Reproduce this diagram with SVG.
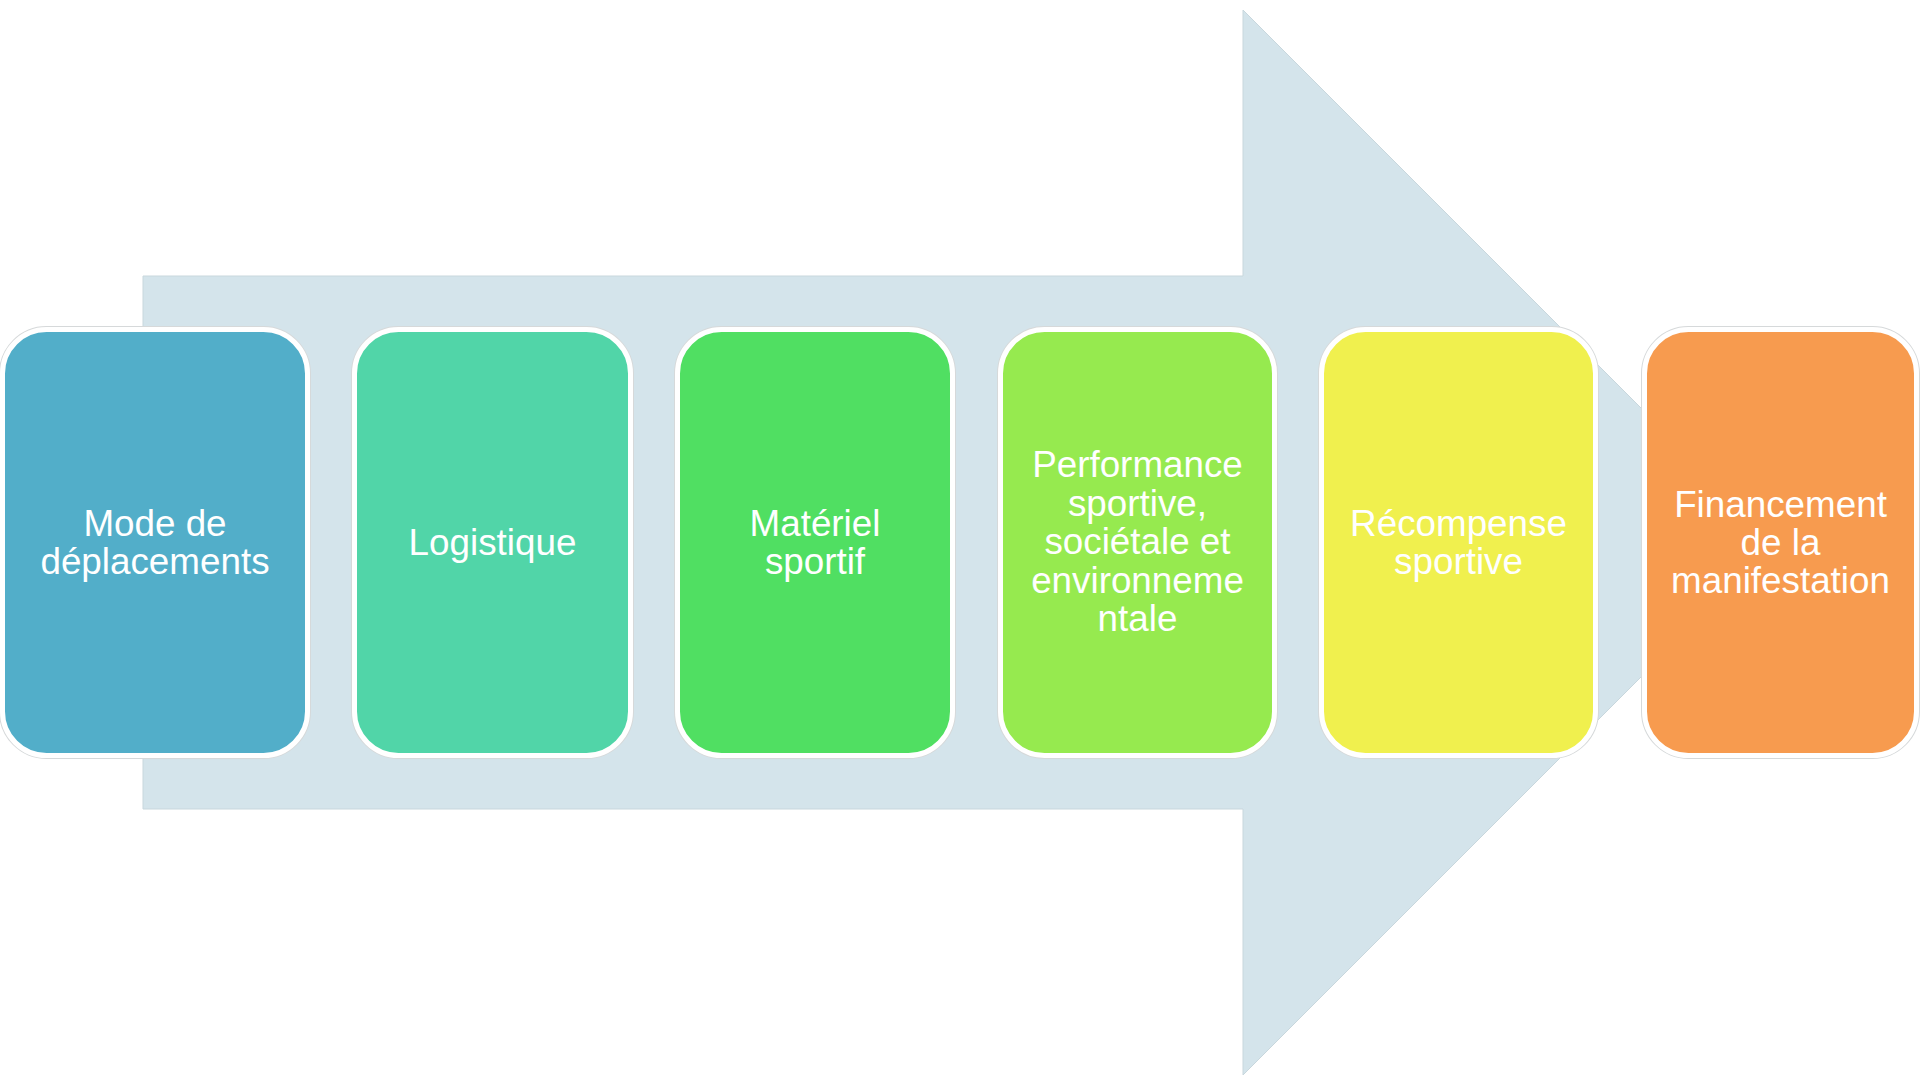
<svg xmlns="http://www.w3.org/2000/svg" width="1920" height="1076" viewBox="0 0 1920 1076">
  <style>
    .halo { fill: none; stroke: #d6d9da; stroke-width: 7; }
    .box { stroke: #ffffff; stroke-width: 5; }
    .lbl { font-family: "Liberation Sans", Arial, sans-serif; font-size: 36.8px; fill: #ffffff; text-anchor: middle; }
  </style>
  <rect width="1920" height="1076" fill="#ffffff"/>
  <g id="arrow">
    <polygon points="143,276 1243,276 1243,10 1775.5,542.5 1243,1075 1243,809 143,809" fill="#d4e4eb" stroke="#c8d7dd" stroke-width="1"/>
  </g>
  <g id="connectors"></g>
  <g id="node1">
    <rect class="halo" x="2.5" y="329.5" width="305" height="426" rx="44"/>
    <rect class="box" x="2.5" y="329.5" width="305" height="426" rx="44" fill="#52aec9"/>
    <text class="lbl" x="155" y="536">Mode de</text>
    <text class="lbl" x="155" y="574">déplacements</text>
  </g>
  <g id="node2">
    <rect class="halo" x="354.5" y="329.5" width="276" height="426" rx="44"/>
    <rect class="box" x="354.5" y="329.5" width="276" height="426" rx="44" fill="#51d5a8"/>
    <text class="lbl" x="492.5" y="555">Logistique</text>
  </g>
  <g id="node3">
    <rect class="halo" x="677.5" y="329.5" width="275" height="426" rx="44"/>
    <rect class="box" x="677.5" y="329.5" width="275" height="426" rx="44" fill="#50df62"/>
    <text class="lbl" x="815" y="536">Matériel</text>
    <text class="lbl" x="815" y="574">sportif</text>
  </g>
  <g id="node4">
    <rect class="halo" x="1000.5" y="329.5" width="274" height="426" rx="44"/>
    <rect class="box" x="1000.5" y="329.5" width="274" height="426" rx="44" fill="#96ea4f"/>
    <text class="lbl" x="1137.5" y="477">Performance</text>
    <text class="lbl" x="1137.5" y="515.5">sportive,</text>
    <text class="lbl" x="1137.5" y="554">sociétale et</text>
    <text class="lbl" x="1137.5" y="592.5">environneme</text>
    <text class="lbl" x="1137.5" y="631">ntale</text>
  </g>
  <g id="node5">
    <rect class="halo" x="1321.5" y="329.5" width="274" height="426" rx="44"/>
    <rect class="box" x="1321.5" y="329.5" width="274" height="426" rx="44" fill="#f0f04e"/>
    <text class="lbl" x="1458.5" y="536">Récompense</text>
    <text class="lbl" x="1458.5" y="574">sportive</text>
  </g>
  <g id="node6">
    <rect class="halo" x="1644.5" y="329.5" width="272" height="426" rx="44"/>
    <rect class="box" x="1644.5" y="329.5" width="272" height="426" rx="44" fill="#f79b4f"/>
    <text class="lbl" x="1780.5" y="517">Financement</text>
    <text class="lbl" x="1780.5" y="555">de la</text>
    <text class="lbl" x="1780.5" y="593">manifestation</text>
  </g>
</svg>
